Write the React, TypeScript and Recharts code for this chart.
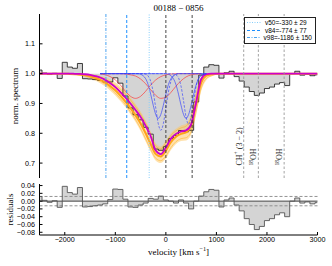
import React from 'react';
import { ComposedChart, Line, Area, XAxis, YAxis, ReferenceLine, Legend } from 'recharts';

// velocity bins of the observed spectrum [km/s]
const VEL = [-2500, -2400, -2300, -2200, -2100, -2000, -1900, -1800, -1700, -1600, -1500, -1400, -1300, -1200, -1100, -1000, -900, -800, -700, -600, -500, -400, -300, -200, -100, 0, 100, 200, 300, 400, 500, 600, 700, 800, 900, 1000, 1100, 1200, 1300, 1400, 1500, 1600, 1700, 1800, 1900, 2000, 2100, 2200, 2300, 2400, 2500, 2600, 2700, 2800, 2900, 3000];
const FLUX = [1.012, 1.002, 0.997, 1.001, 0.984, 1.038, 1.022, 1.018, 1.034, 0.983, 0.982, 0.98, 0.977, 0.972, 0.972, 0.986, 0.968, 0.925, 0.885, 0.862, 0.845, 0.82, 0.797, 0.747, 0.743, 0.755, 0.782, 0.793, 0.809, 0.805, 0.81, 0.905, 0.995, 1.022, 1.03, 1.028, 0.985, 1.003, 1.008, 0.99, 0.975, 0.955, 0.94, 0.927, 0.935, 0.95, 0.955, 0.965, 0.97, 0.96, 1.0, 1.008, 0.995, 0.998, 0.993, 0.996];
const RESID = [0.012, 0.002, -0.003, 0.001, -0.016, 0.038, 0.022, 0.018, 0.035, -0.015, -0.014, -0.012, -0.01, -0.007, 0.004, 0.031, 0.03, 0.005, -0.015, -0.016, -0.01, -0.005, 0.007, 0.005, 0.013, 0.003, 0.0, -0.005, 0.003, -0.005, -0.02, 0.0, 0.013, 0.024, 0.03, 0.028, -0.015, 0.003, 0.008, -0.01, -0.025, -0.045, -0.06, -0.073, -0.065, -0.05, -0.045, -0.035, -0.03, -0.04, 0.0, 0.008, -0.005, -0.002, -0.007, -0.004];

// model grid
const MODEL_V = [-2500, -2000, -1900, -1800, -1700, -1600, -1500, -1400, -1300, -1200, -1100, -1000, -900, -800, -700, -600, -500, -400, -300, -200, -100, 0, 100, 200, 300, 400, 500, 600, 700, 800, 900, 1000, 1100, 1200, 3000];
const BEST = [1, 1, 1, 0.9995, 0.999, 0.998, 0.996, 0.992, 0.987, 0.979, 0.968, 0.955, 0.938, 0.92, 0.9, 0.878, 0.855, 0.825, 0.79, 0.742, 0.73, 0.752, 0.782, 0.798, 0.806, 0.81, 0.83, 0.905, 0.982, 0.998, 1, 1, 1, 1, 1];
const BAND_LO = [1, 1, 0.998, 0.996, 0.993, 0.989, 0.984, 0.977, 0.968, 0.957, 0.943, 0.927, 0.908, 0.888, 0.864, 0.838, 0.808, 0.772, 0.738, 0.708, 0.7, 0.715, 0.744, 0.764, 0.774, 0.776, 0.795, 0.862, 0.942, 0.978, 0.99, 0.996, 0.999, 1, 1];
const BAND_HI = [1, 1, 1, 1, 1, 0.999, 0.998, 0.996, 0.993, 0.988, 0.98, 0.97, 0.957, 0.941, 0.921, 0.898, 0.873, 0.843, 0.806, 0.766, 0.756, 0.775, 0.8, 0.815, 0.826, 0.832, 0.865, 0.94, 0.99, 1, 1, 1, 1, 1, 1];
const DRAW_A = [1, 1, 0.999, 0.997, 0.995, 0.992, 0.988, 0.982, 0.974, 0.964, 0.951, 0.935, 0.916, 0.896, 0.872, 0.846, 0.816, 0.781, 0.746, 0.716, 0.708, 0.724, 0.752, 0.772, 0.782, 0.785, 0.806, 0.875, 0.952, 0.984, 0.993, 0.998, 1, 1, 1];
const DRAW_B = [1, 1, 1, 1, 0.999, 0.997, 0.995, 0.992, 0.987, 0.981, 0.972, 0.961, 0.948, 0.932, 0.912, 0.889, 0.864, 0.834, 0.797, 0.757, 0.748, 0.768, 0.793, 0.808, 0.818, 0.824, 0.855, 0.93, 0.986, 0.999, 1, 1, 1, 1, 1];
const DRAW_C = [1, 1, 0.999, 0.998, 0.997, 0.995, 0.991, 0.986, 0.979, 0.97, 0.958, 0.944, 0.926, 0.906, 0.884, 0.86, 0.833, 0.8, 0.764, 0.73, 0.722, 0.742, 0.77, 0.788, 0.798, 0.803, 0.826, 0.9, 0.97, 0.993, 0.998, 1, 1, 1, 1];

// individual components
const BLUE_V = [-1300, -600, -550, -500, -450, -400, -350, -300, -250, -200, -150, -100, -50, 0, 50, 100, 150, 200, 250, 300, 350, 400, 450, 500, 550, 600, 650, 700, 750, 800];
const BLUE_SOLID_1 = [1, 1, 1, 0.998, 0.993, 0.983, 0.963, 0.931, 0.894, 0.863, 0.85, 0.863, 0.894, 0.931, 0.963, 0.983, 0.993, 0.998, 1, 1, 1, 1, 1, 1, 1, 1, 1, 1, 1, 1];
const BLUE_SOLID_2 = [1, 1, 1, 1, 1, 1, 1, 1, 1, 1, 1, 1, 1, 1, 0.998, 0.993, 0.983, 0.963, 0.931, 0.894, 0.863, 0.85, 0.863, 0.894, 0.931, 0.963, 0.983, 0.993, 0.998, 1];
const BLUE_DASH_1 = [1, 1, 1, 1, 1, 0.998, 0.992, 0.974, 0.938, 0.885, 0.832, 0.81, 0.832, 0.885, 0.938, 0.974, 0.992, 0.998, 1, 1, 1, 1, 1, 1, 1, 1, 1, 1, 1, 1];
const BLUE_DASH_2 = [1, 1, 1, 1, 1, 1, 1, 1, 1, 1, 1, 1, 1, 1, 1, 1, 0.999, 0.996, 0.986, 0.958, 0.908, 0.854, 0.83, 0.854, 0.908, 0.958, 0.986, 0.996, 0.999, 1];
const RED_V = [-1300, -1200, -1100, -1000, -900, -800, -700, -600, -500, -400, -300, -200, -100, 0, 100, 200, 300, 400, 500, 600, 700];
const RED_1 = [0.999, 0.996, 0.99, 0.979, 0.962, 0.941, 0.924, 0.917, 0.924, 0.941, 0.962, 0.979, 0.99, 0.996, 0.999, 1, 1, 1, 1, 1, 1];
const RED_2 = [1, 1, 1, 1, 1, 0.999, 0.996, 0.992, 0.982, 0.966, 0.946, 0.927, 0.917, 0.921, 0.937, 0.958, 0.976, 0.989, 0.996, 0.999, 1];

// velocity markers
const MARK_NAMES = ['v50', 'v84', 'v98'];
const MARK_V = [-330, -774, -1186];
const MARK_ERR = [29, 77, 150];
const MARK_COLORS = ['#87cefa', '#1e90ff', '#4aa3f0'];
const MARK_DASH = ['1 1.5', '3 2', '3 1.5 1 1.5'];

const DOUBLET_V = [0, 520];
const FEATURE_V = [1540, 1830, 2340];
const FEATURE_TAGS = [['CH', '+', ' (3 \u2212 2)'], ['', '18', 'OH'], ['', '18', 'OH']];

const X_TICKS = [-2000, -1000, 0, 1000, 2000, 3000];
const SPEC_TICKS = [0.7, 0.8, 0.9, 1.0, 1.1];
const RESID_TICKS = [-0.08, -0.06, -0.04, -0.02, 0, 0.02, 0.04];

const SANS = '"Liberation Sans", Arial, sans-serif';
const SERIF = '"Liberation Serif", "DejaVu Serif", serif';

const fmt = (digits: number) => (n: number) => {
  const s = Math.abs(n).toFixed(digits);
  return n < -1e-9 ? '\u2212' + s : s;
};

const specRows = VEL.map((v, i) => ({ v, flux: FLUX[i], fill: [FLUX[i], 1] }));
const residRows = VEL.map((v, i) => ({ v, r: RESID[i], fill: [RESID[i], 0] }));
const modelRows = MODEL_V.map((v, i) => ({
  v,
  best: BEST[i],
  band: [BAND_LO[i], BAND_HI[i]],
  a: DRAW_A[i],
  b: DRAW_B[i],
  c: DRAW_C[i],
}));
const blueRows = BLUE_V.map((v, i) => ({
  v,
  s1: BLUE_SOLID_1[i],
  s2: BLUE_SOLID_2[i],
  d1: BLUE_DASH_1[i],
  d2: BLUE_DASH_2[i],
}));
const redRows = RED_V.map((v, i) => ({ v, r1: RED_1[i], r2: RED_2[i] }));

const tickStyle = { fontSize: 7.2, fontFamily: SANS, fill: '#000' };

function YTitle({ viewBox, text, dx }: any) {
  const x = viewBox.x + dx;
  const y = viewBox.y + viewBox.height / 2;
  return (
    <text x={x} y={y} transform={`rotate(-90 ${x} ${y})`} textAnchor="middle"
      dominantBaseline="central" fontFamily={SERIF} fontSize={9} fill="#000">
      {text}
    </text>
  );
}

function XTitle({ viewBox }: any) {
  const x = viewBox.x + viewBox.width / 2;
  const y = viewBox.y + 19.5;
  return (
    <text x={x} y={y} textAnchor="middle" fontFamily={SERIF} fontSize={9} fill="#000">
      velocity [km s<tspan fontSize={6.3} dy={-3.5}>{'\u22121'}</tspan>
      <tspan dy={3.5}>]</tspan>
    </text>
  );
}

function FeatureTag({ viewBox, parts }: any) {
  const x = viewBox.x - 2.2;
  const y = viewBox.y + viewBox.height - 12.5;
  return (
    <text x={x} y={y} transform={`rotate(-90 ${x} ${y})`} fontFamily={SERIF} fontSize={8} fill="#222">
      {parts[0]}
      <tspan fontSize={5.5} dy={-3.2}>{parts[1]}</tspan>
      <tspan fontSize={8} dy={3.2}>{parts[2]}</tspan>
    </text>
  );
}

function LegendBox() {
  return (
    <div style={{
      border: '0.8px solid #222', background: '#fff', padding: '1px 3px 1px 2px',
      fontFamily: SANS, fontSize: 6.5, lineHeight: '7.5px', color: '#000', boxSizing: 'border-box',
    }}>
      {MARK_NAMES.map((n, i) => (
        <div key={n} style={{ display: 'flex', alignItems: 'center', whiteSpace: 'nowrap' }}>
          <svg width={14} height={5}>
            <line x1={0} y1={2.5} x2={14} y2={2.5} stroke={MARK_COLORS[i]} strokeWidth={1}
              strokeDasharray={MARK_DASH[i]} />
          </svg>
          <span style={{ marginLeft: 4 }}>{`${n}=${MARK_V[i]} \u00b1 ${MARK_ERR[i]}`}</span>
        </div>
      ))}
    </div>
  );
}

const X_DOMAIN: [number, number] = [-2500, 3000];

export default function App() {
  return (
    <div style={{ position: 'relative', width: 332, height: 266, background: '#fff' }}>
      <style>{'body{margin:0}'}</style>
      <div style={{
        position: 'absolute', left: 39.5, top: 2.5, width: 278, textAlign: 'center',
        fontFamily: SERIF, fontSize: 9, lineHeight: '11px', zIndex: 2,
      }}>
        00188 {'\u2212'} 0856
      </div>

      <div style={{ position: 'absolute', left: 0, top: 0 }}>
        <ComposedChart width={332} height={180} margin={{ top: 14, right: 14.5, bottom: 2, left: 0 }}>
          <XAxis type="number" dataKey="v" domain={X_DOMAIN} ticks={X_TICKS} allowDataOverflow
            height={0} tick={false} tickSize={-3} stroke="#000" />
          <XAxis xAxisId="top" orientation="top" type="number" dataKey="v" domain={X_DOMAIN}
            ticks={X_TICKS} allowDataOverflow height={0} tick={false} tickSize={-3} stroke="#000" />
          <YAxis type="number" domain={[0.65, 1.2]} ticks={SPEC_TICKS} allowDataOverflow width={39.5}
            tickSize={-3} tickMargin={7.5} tick={tickStyle} tickFormatter={fmt(1)} stroke="#000"
            label={<YTitle text="norm. spectrum" dx={14.5} />} />
          <YAxis yAxisId="right" orientation="right" type="number" domain={[0.65, 1.2]} ticks={SPEC_TICKS}
            allowDataOverflow width={0} tick={false} tickSize={-3} stroke="#000" />

          <Area data={specRows} dataKey="fill" type="step" fill="#d4d4d4" fillOpacity={1} stroke="none"
            isAnimationActive={false} />
          <Line data={specRows} dataKey="flux" type="step" stroke="#111" strokeWidth={0.8} dot={false}
            isAnimationActive={false} />

          <Area data={modelRows} dataKey="band" type="monotone" fill="#ffc55c" fillOpacity={0.5}
            stroke="none" isAnimationActive={false} />
          <Line data={modelRows} dataKey="a" type="monotone" stroke="#ffa500" strokeOpacity={0.6}
            strokeWidth={0.7} dot={false} isAnimationActive={false} />
          <Line data={modelRows} dataKey="b" type="monotone" stroke="#ffa500" strokeOpacity={0.6}
            strokeWidth={0.7} dot={false} isAnimationActive={false} />
          <Line data={modelRows} dataKey="c" type="monotone" stroke="#ffa31a" strokeWidth={2}
            dot={false} isAnimationActive={false} />

          <Line data={modelRows} dataKey="best" type="monotone" stroke="#cc00cc" strokeWidth={1.8}
            dot={false} isAnimationActive={false} />

          <Line data={redRows} dataKey="r1" type="monotone" stroke="#ff2d2d" strokeWidth={0.8}
            strokeOpacity={0.8} dot={false} isAnimationActive={false} />
          <Line data={redRows} dataKey="r2" type="monotone" stroke="#ff2d2d" strokeWidth={0.8}
            strokeOpacity={0.8} dot={false} isAnimationActive={false} />
          <Line data={blueRows} dataKey="s1" type="monotone" stroke="#2f3cff" strokeWidth={0.8}
            strokeOpacity={0.8} dot={false} isAnimationActive={false} />
          <Line data={blueRows} dataKey="s2" type="monotone" stroke="#2f3cff" strokeWidth={0.8}
            strokeOpacity={0.8} dot={false} isAnimationActive={false} />
          <Line data={blueRows} dataKey="d1" type="monotone" stroke="#2f3cff" strokeWidth={0.8}
            strokeDasharray="2.5 1.5" strokeOpacity={0.8} dot={false} isAnimationActive={false} />
          <Line data={blueRows} dataKey="d2" type="monotone" stroke="#2f3cff" strokeWidth={0.8}
            strokeDasharray="2.5 1.5" strokeOpacity={0.8} dot={false} isAnimationActive={false} />

          {MARK_V.map((v, i) => (
            <ReferenceLine key={MARK_NAMES[i]} x={v} stroke={MARK_COLORS[i]} strokeWidth={1}
              strokeDasharray={MARK_DASH[i]} />
          ))}
          {DOUBLET_V.map((v) => (
            <ReferenceLine key={`d${v}`} x={v} stroke="#333" strokeWidth={0.9} strokeDasharray="3 2" />
          ))}
          {FEATURE_V.map((v, i) => (
            <ReferenceLine key={`f${v}`} x={v} stroke="#999" strokeWidth={0.9} strokeDasharray="2.5 2"
              label={<FeatureTag parts={FEATURE_TAGS[i]} />} />
          ))}

          <Legend content={<LegendBox />} layout="horizontal" verticalAlign="middle" align="center"
            wrapperStyle={{ left: 244, top: 17, width: 72, height: 'auto' }} />
        </ComposedChart>
      </div>

      <div style={{ position: 'absolute', left: 0, top: 180 }}>
        <ComposedChart width={332} height={86} margin={{ top: 4, right: 14.5, bottom: 0, left: 0 }}>
          <XAxis type="number" dataKey="v" domain={X_DOMAIN} ticks={X_TICKS} allowDataOverflow
            height={31} tickSize={-3} tickMargin={5} tick={tickStyle} tickFormatter={fmt(0)} stroke="#000"
            label={<XTitle />} />
          <XAxis xAxisId="top" orientation="top" type="number" dataKey="v" domain={X_DOMAIN}
            ticks={X_TICKS} allowDataOverflow height={0} tick={false} tickSize={-3} stroke="#000" />
          <YAxis type="number" domain={[-0.087, 0.044]} ticks={RESID_TICKS} allowDataOverflow width={39.5}
            tickSize={-3} tickMargin={7.5} tick={tickStyle} tickFormatter={fmt(2)} stroke="#000"
            interval={0} label={<YTitle text="residuals" dx={10.3} />} />
          <YAxis yAxisId="right" orientation="right" type="number" domain={[-0.087, 0.044]}
            ticks={RESID_TICKS} allowDataOverflow width={0} tick={false} tickSize={-3} stroke="#000" />

          <Area data={residRows} dataKey="fill" type="step" fill="#d4d4d4" fillOpacity={1} stroke="none"
            isAnimationActive={false} />
          <ReferenceLine y={0} stroke="#444" strokeWidth={1} />
          <ReferenceLine y={0.012} stroke="#888" strokeWidth={0.9} strokeDasharray="3 2" />
          <ReferenceLine y={-0.012} stroke="#888" strokeWidth={0.9} strokeDasharray="3 2" />
          <Line data={residRows} dataKey="r" type="step" stroke="#555" strokeWidth={0.9} dot={false}
            isAnimationActive={false} />
        </ComposedChart>
      </div>
    </div>
  );
}
